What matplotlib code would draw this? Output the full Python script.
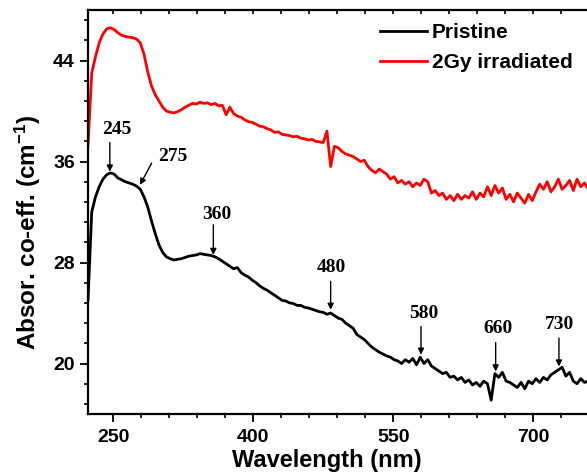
import matplotlib
matplotlib.use('Agg')
import matplotlib.pyplot as plt
from matplotlib.ticker import MultipleLocator
import numpy as np

# spectrum grid (nm)
wavelength = np.arange(223, 772, 4)

pristine = [
    25.0, 32.0, 33.2, 34.0, 34.6, 34.95, 35.1, 35.0, 34.7, 34.55,
    34.4, 34.3, 34.2, 34.05, 33.8, 33.2, 32.4, 31.3, 30.3, 29.4,
    28.8, 28.45, 28.3, 28.2, 28.25, 28.3, 28.4, 28.5, 28.55, 28.6,
    28.7, 28.65, 28.6, 28.55, 28.45, 28.3, 28.1, 27.9, 27.7, 27.5,
    27.6, 27.2, 27.0, 26.85, 26.6, 26.4, 26.15, 25.95, 25.8, 25.6,
    25.4, 25.2, 25.0, 24.95, 24.8, 24.75, 24.6, 24.6, 24.45, 24.4,
    24.3, 24.2, 24.1, 24.05, 23.9, 24.0, 23.8, 23.6, 23.5, 23.2,
    23.0, 22.8, 22.3, 22.1, 21.9, 21.6, 21.3, 21.1, 20.9, 20.75,
    20.6, 20.5, 20.3, 20.2, 20.0, 20.3, 20.1, 20.4, 19.9, 20.5,
    20.0, 20.3, 19.8, 19.6, 19.4, 19.2, 19.3, 18.9, 19.0, 18.7,
    18.9, 18.5, 18.7, 18.3, 18.5, 18.2, 18.6, 18.4, 17.1, 19.2,
    18.9, 19.3, 18.6, 18.5, 18.3, 18.1, 18.5, 18.0, 18.6, 18.4,
    18.8, 18.5, 18.9, 18.7, 19.1, 19.3, 19.5, 19.7, 19.0, 19.3,
    18.6, 18.4, 18.8, 18.5, 18.6, 18.4, 18.7, 18.5,
]

irradiated = [
    37.3, 43.0, 44.3, 45.4, 46.1, 46.5, 46.6, 46.45, 46.2, 46.0,
    45.9, 45.85, 45.8, 45.7, 45.4, 44.5, 43.1, 42.0, 41.3, 40.8,
    40.3, 40.0, 39.9, 39.85, 39.95, 40.1, 40.3, 40.45, 40.6, 40.55,
    40.7, 40.6, 40.65, 40.5, 40.6, 40.4, 40.45, 39.7, 40.3, 39.8,
    39.6, 39.5, 39.3, 39.15, 39.1, 38.95, 38.8, 38.75, 38.6, 38.5,
    38.3, 38.35, 38.15, 38.1, 38.05, 37.95, 38.0, 37.85, 37.8, 37.7,
    37.75, 37.6, 37.55, 37.5, 38.4, 35.6, 37.2, 37.1, 36.8, 36.6,
    36.5, 36.4, 36.2, 36.0, 36.1, 35.6, 35.3, 35.1, 35.4, 35.2,
    35.0, 34.6, 34.8, 34.3, 34.5, 34.2, 34.4, 34.0, 34.3, 34.1,
    34.6, 34.4, 33.5, 33.7, 33.3, 33.5, 33.0, 33.3, 32.9, 33.4,
    33.0, 33.3, 33.1, 33.6, 33.0, 33.5, 33.2, 34.0, 33.3, 34.1,
    33.5, 33.9, 33.0, 33.4, 32.8, 33.5, 33.1, 32.7, 33.4, 32.9,
    33.6, 34.2, 33.8, 34.4, 33.6, 34.0, 34.6, 33.8, 34.1, 34.5,
    33.7, 34.6, 34.0, 34.3, 33.8, 34.5, 34.1, 34.3,
]

peak_labels = ['245', '275', '360', '480', '580', '660', '730']
peak_x = [246.4, 278.7, 357.3, 483.0, 579.8, 659.8, 727.6]
peak_y = [35.2, 34.15, 28.6, 24.25, 20.69, 19.37, 19.76]

# layout of the annotations: arrow tail and label centre
arrow_tail = [(246.4, 37.5), (291.2, 35.87), (357.3, 30.99), (483.0, 26.5),
              (579.8, 22.93), (659.8, 21.66), (727.6, 22.01)]
label_pos = [(254.1, 38.5), (313.7, 36.4), (360.9, 31.8), (484.1, 27.6),
             (583.0, 24.0), (662.6, 22.8), (728.7, 23.1)]

plt.rcParams['font.family'] = ['Liberation Sans', 'DejaVu Sans']
plt.rcParams['font.weight'] = 'bold'
plt.rcParams['mathtext.fontset'] = 'custom'
plt.rcParams['mathtext.rm'] = 'Liberation Sans:bold'
plt.rcParams['mathtext.bf'] = 'Liberation Sans:bold'
plt.rcParams['mathtext.default'] = 'bf'

W, H = 587, 476
fig = plt.figure(figsize=(W / 100, H / 100), dpi=100)
# right spine lies off the picture (the original is cropped)
ax = fig.add_axes([88 / W, 62 / H, 512 / W, 404 / H])

ax.plot(wavelength, pristine, color='black', lw=2.0, label='Pristine')
ax.plot(wavelength, irradiated, color='#ff0000', lw=2.0, label='2Gy irradiated')

for lab, tip, tail, pos in zip(peak_labels, zip(peak_x, peak_y), arrow_tail, label_pos):
    ax.annotate('', xy=tip, xytext=tail,
                arrowprops=dict(arrowstyle='-|>', color='black', lw=1.0,
                                mutation_scale=9, shrinkA=0, shrinkB=0))
    ax.text(pos[0], pos[1], lab, ha='center', va='center', fontsize=14,
            family='Liberation Serif', fontweight='bold')

ax.set_xlim(223, 771.6)
ax.set_ylim(16, 48)
ax.xaxis.set_major_locator(MultipleLocator(150, offset=100))
ax.xaxis.set_minor_locator(MultipleLocator(30, offset=10))
ax.yaxis.set_major_locator(MultipleLocator(8, offset=4))
ax.yaxis.set_minor_locator(MultipleLocator(1.6, offset=0.8))

for s in ax.spines.values():
    s.set_linewidth(1.6)

ax.tick_params(axis='both', which='major', direction='out', length=5.5, width=1.3,
               labelsize=14, pad=4)
ax.tick_params(axis='both', which='minor', direction='out', length=3, width=1.2)
ax.tick_params(axis='x', which='both', pad=5)

top = ax.secondary_xaxis('top')
top.xaxis.set_major_locator(MultipleLocator(150, offset=100))
top.xaxis.set_minor_locator(MultipleLocator(30, offset=10))
top.tick_params(which='both', direction='in', labeltop=False, length=3, width=1.2)
top.spines['top'].set_visible(False)

fig.text(28 / W, 1 - 232 / H, r'Absor. co-eff. (cm$^{-1}$)', rotation=90,
         ha='center', va='center', fontsize=17.5, fontweight='bold')
fig.text(327 / W, 1 - 460 / H, 'Wavelength (nm)', ha='center', va='center',
         fontsize=17, fontweight='bold')

leg = ax.legend(loc='upper left', bbox_to_anchor=(380 / W, 1 - 23 / H),
                bbox_transform=fig.transFigure, frameon=False, fontsize=15,
                handlelength=2.25, handletextpad=0.25, labelspacing=0.55,
                borderpad=0, borderaxespad=0)
for line in leg.get_lines():
    line.set_linewidth(2.0)

fig.savefig('out.png', dpi=100)
